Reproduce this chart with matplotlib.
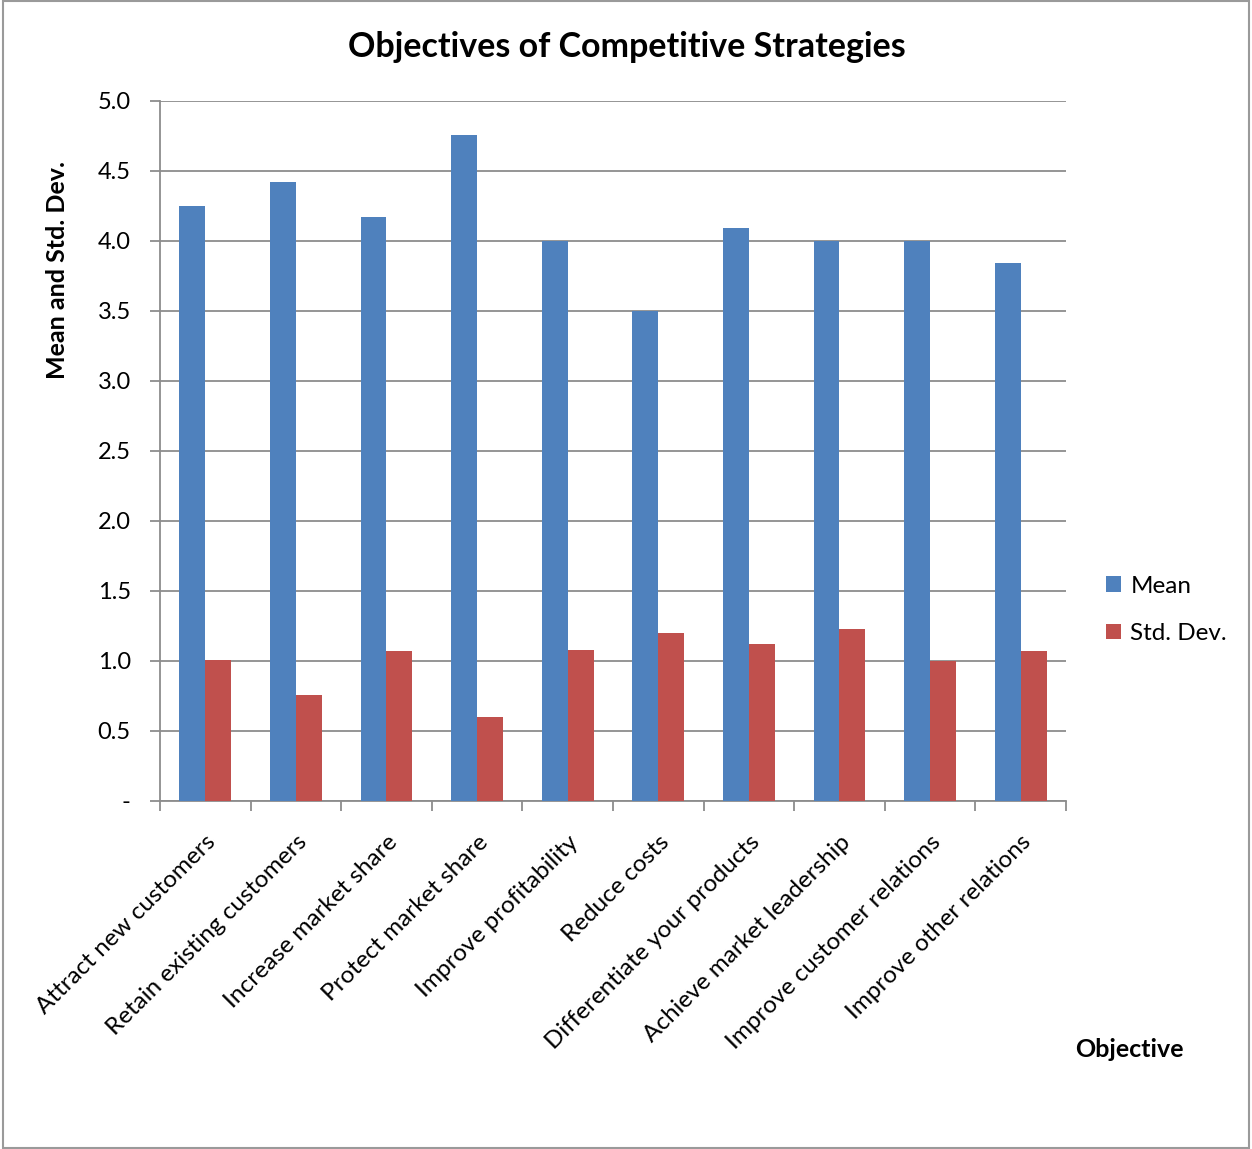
import matplotlib.pyplot as plt
import numpy as np
from matplotlib.patches import Rectangle

objectives = ['Attract new customers', 'Retain existing customers', 'Increase market share',
              'Protect market share', 'Improve profitability', 'Reduce costs',
              'Differentiate your products', 'Achieve market leadership',
              'Improve customer relations', 'Improve other relations']
mean = [4.25, 4.42, 4.17, 4.76, 4.00, 3.50, 4.09, 4.00, 4.00, 3.84]
std_dev = [1.01, 0.76, 1.07, 0.60, 1.08, 1.20, 1.12, 1.23, 1.00, 1.07]
ytick_labels = ['-', '0.5', '1.0', '1.5', '2.0', '2.5', '3.0', '3.5', '4.0', '4.5', '5.0']

plt.rcParams['font.family'] = ['Lato', 'DejaVu Sans']

fig = plt.figure(figsize=(12.52, 11.49), dpi=100)
ax = fig.add_axes([0.1278, 0.3029, 0.7236, 0.6092])

x = np.arange(len(objectives))
w = 0.286
ax.bar(x - w / 2, mean, w, color='#4F81BD', label='Mean', zorder=3)
ax.bar(x + w / 2, std_dev, w, color='#C0504D', label='Std. Dev.', zorder=3)

ax.set_xlim(-0.5, len(objectives) - 0.5)
ax.set_ylim(0, 5)
ax.set_yticks(np.arange(0, 5.01, 0.5))
ax.set_yticklabels(ytick_labels, fontsize=17)
ax.yaxis.grid(True, color='#8c8c8c', linewidth=1.3, zorder=0)

ax.set_xticks(x)
ax.set_xticklabels(objectives, rotation=45, ha='right', rotation_mode='anchor', fontsize=17.5)
ax.tick_params(axis='x', length=0, pad=22)
ax.set_xticks(np.arange(-0.5, len(objectives), 1), minor=True)
ax.tick_params(axis='x', which='minor', length=7, color='#8c8c8c', width=1.3)
ax.tick_params(axis='y', length=7, color='#8c8c8c', width=1.3, pad=14)

for s in ['top', 'right']:
    ax.spines[s].set_visible(False)
for s in ['left', 'bottom']:
    ax.spines[s].set_color('#8c8c8c')
    ax.spines[s].set_linewidth(1.3)

fig.text(0.501, 0.959, 'Objectives of Competitive Strategies', ha='center', va='center',
         fontsize=24.5, fontweight='bold')
fig.text(0.046, 0.765, 'Mean and Std. Dev.', rotation=90, ha='center', va='center',
         fontsize=18, fontweight='bold')
fig.text(0.9017, 0.0862, 'Objective', ha='center', va='center', fontsize=18, fontweight='bold')

ax.legend(loc='center left', bbox_to_anchor=(1.02, 0.273), frameon=False, fontsize=17.5,
          handlelength=0.6, handleheight=0.6, handletextpad=0.4, labelspacing=1.1)

fig.patches.append(Rectangle((0.002, 0.001), 0.996, 0.998, transform=fig.transFigure,
                             fill=False, edgecolor='#9a9a9a', linewidth=1.5))

plt.savefig('out.png')
